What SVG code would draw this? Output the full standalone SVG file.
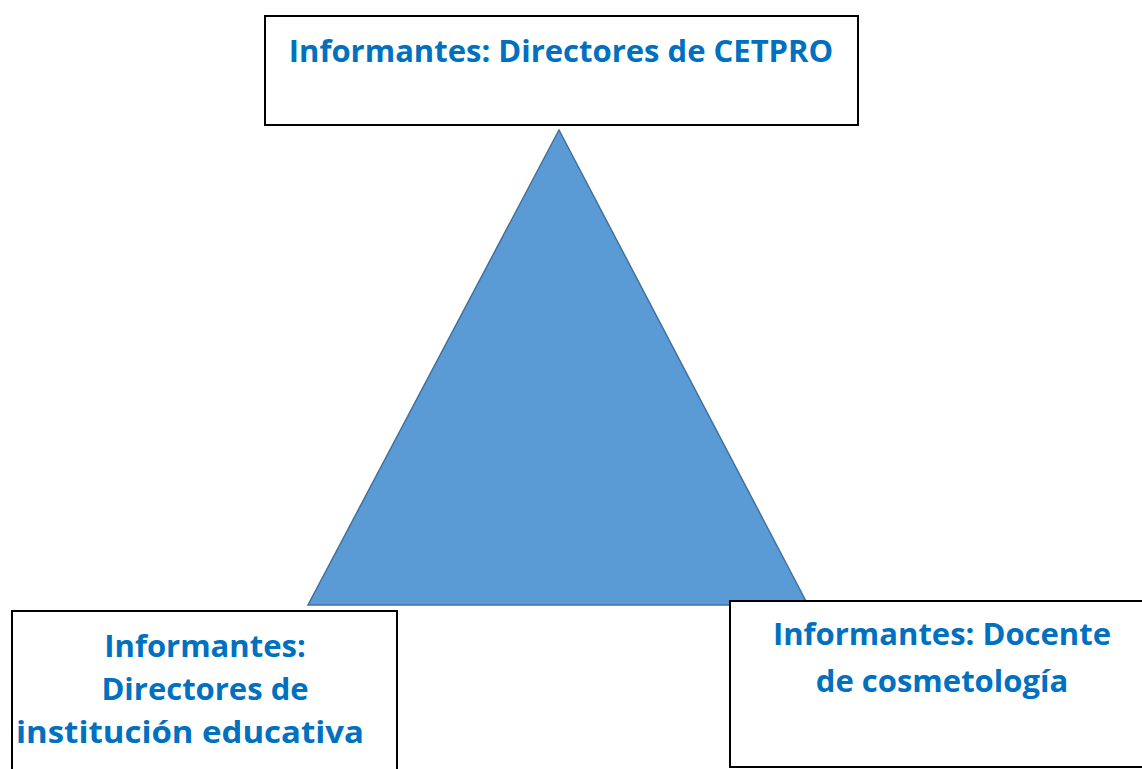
<svg xmlns="http://www.w3.org/2000/svg" width="1142" height="769" viewBox="0 0 1142 769">
<style>
.box{fill:#fff;stroke:#000;stroke-width:2}
.lbl{font-family:"Open Sans","Liberation Sans",sans-serif;font-weight:700;font-size:31px;fill:#0070C0;text-anchor:middle}
</style>
<rect width="1142" height="769" fill="#fff"/>
<g id="triangle">
<polygon points="559,130 308,605 808,605" fill="#5B9BD5" stroke="#41719C" stroke-width="1.5"/>
</g>
<g id="node-top">
<rect class="box" x="265" y="16" width="593" height="109"/>
<text class="lbl" x="561" y="62">Informantes: Directores de CETPRO</text>
</g>
<g id="node-left">
<rect class="box" x="12" y="611" width="385" height="170"/>
<text class="lbl" x="205" y="657">Informantes:</text>
<text class="lbl" x="205" y="700">Directores de</text>
<text class="lbl" x="190" y="743" textLength="348" lengthAdjust="spacingAndGlyphs">institución educativa</text>
</g>
<g id="node-right">
<rect class="box" x="730" y="601" width="430" height="166"/>
<text class="lbl" x="942" y="645">Informantes: Docente</text>
<text class="lbl" x="942" y="692">de cosmetología</text>
</g>
<g id="connectors"></g>
</svg>
